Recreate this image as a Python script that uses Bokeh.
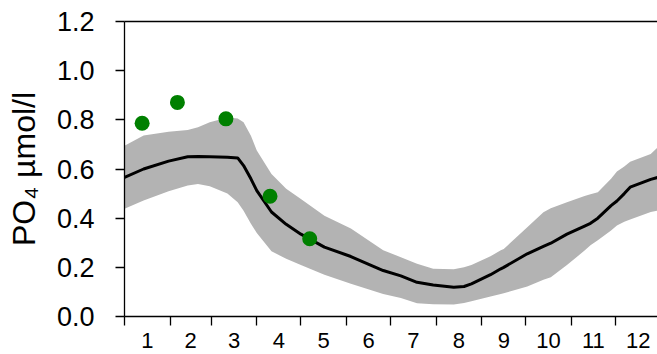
from bokeh.plotting import figure
from bokeh.models import LinearAxis, FixedTicker, Range1d
from bokeh.embed import file_html
from bokeh.resources import INLINE

# ---- data (day of year) ----
month_labels = ["1", "2", "3", "4", "5", "6", "7", "8", "9", "10", "11", "12"]
month_starts = [0, 31, 59, 90, 120, 151, 181, 212, 243, 273, 304, 334, 365]
month_mids = [15.5, 45, 74.5, 105, 135.5, 166, 196.5, 227.5, 258, 288.5, 319, 349.5]

y_ticks = [0.0, 0.2, 0.4, 0.6, 0.8, 1.0, 1.2]
y_tick_labels = ["0.0", "0.2", "0.4", "0.6", "0.8", "1.0", "1.2"]

clim_day = [0, 13, 30, 43, 50, 58, 70, 77, 81, 86, 90, 100, 110, 120, 136, 154,
            176, 188, 199, 210, 224, 231, 236, 249, 256, 258, 274, 285, 290, 301,
            313, 317, 322, 331, 335, 340, 344, 358, 363]
clim_mean = [0.566, 0.600, 0.632, 0.650, 0.651, 0.650, 0.648, 0.645, 0.614, 0.560,
             0.512, 0.425, 0.375, 0.335, 0.282, 0.244, 0.187, 0.165, 0.139, 0.128,
             0.119, 0.122, 0.133, 0.170, 0.194, 0.200, 0.255, 0.285, 0.298, 0.335,
             0.368, 0.379, 0.400, 0.451, 0.470, 0.500, 0.526, 0.558, 0.566]
clim_lower = [0.438, 0.472, 0.510, 0.533, 0.539, 0.530, 0.500, 0.465, 0.430, 0.377,
              0.340, 0.265, 0.235, 0.210, 0.170, 0.133, 0.092, 0.075, 0.054, 0.050,
              0.049, 0.055, 0.062, 0.081, 0.092, 0.095, 0.122, 0.150, 0.160, 0.210,
              0.268, 0.290, 0.310, 0.350, 0.370, 0.385, 0.395, 0.425, 0.431]
clim_upper = [0.695, 0.736, 0.752, 0.759, 0.770, 0.790, 0.810, 0.805, 0.790, 0.735,
              0.675, 0.580, 0.520, 0.478, 0.410, 0.358, 0.270, 0.241, 0.215, 0.194,
              0.192, 0.200, 0.210, 0.245, 0.270, 0.275, 0.363, 0.424, 0.440, 0.465,
              0.490, 0.497, 0.505, 0.560, 0.590, 0.610, 0.630, 0.661, 0.690]

obs_day = [12, 36, 69, 99, 126]
obs_po4 = [0.786, 0.871, 0.804, 0.489, 0.316]

FONT = "Liberation Sans"

p = figure(width=657, height=354, output_backend="svg", toolbar_location=None,
           x_range=Range1d(0, 362.6), y_range=Range1d(0, 1.2),
           min_border_left=124, min_border_right=0, min_border_top=21,
           min_border_bottom=38)
p.background_fill_color = "white"
p.border_fill_color = "white"
p.outline_line_color = None
p.xgrid.visible = False
p.ygrid.visible = False

p.varea(x=clim_day, y1=clim_lower, y2=clim_upper, fill_color="#b3b3b3")
p.line(x=clim_day, y=clim_mean, line_color="black", line_width=3)
p.scatter(x=obs_day, y=obs_po4, size=15, fill_color="#008000", line_color=None)

# x axis: ticks at month boundaries, labels at month centres
xa = p.xaxis[0]
xa.ticker = FixedTicker(ticks=month_mids, minor_ticks=month_starts)
xa.major_label_overrides = {m: l for m, l in zip(month_mids, month_labels)}
xa.major_tick_line_color = None
xa.major_tick_out = 0
xa.major_tick_in = 0
xa.minor_tick_line_color = "black"
xa.minor_tick_out = 9
xa.minor_tick_in = 0
xa.minor_tick_line_width = 1.3
xa.axis_line_width = 1.3
xa.major_label_standoff = 7
xa.major_label_text_font = FONT
xa.major_label_text_font_size = "22px"
xa.major_label_text_color = "black"

ya = p.yaxis[0]
ya.ticker = FixedTicker(ticks=y_ticks)
ya.major_label_overrides = {t: l for t, l in zip(y_ticks, y_tick_labels)}
ya.minor_tick_line_color = None
ya.major_tick_out = 9
ya.major_tick_in = 0
ya.major_tick_line_width = 1.3
ya.axis_line_width = 1.3
ya.major_label_standoff = 21
ya.major_label_text_font = FONT
ya.major_label_text_font_size = "27px"
ya.major_label_text_color = "black"
ya.axis_label = "PO\u2084 \u00b5mol/l"
ya.axis_label_text_font = FONT
ya.axis_label_text_font_size = "32px"
ya.axis_label_text_font_style = "normal"
ya.axis_label_text_color = "black"
ya.axis_label_standoff = 12

top = LinearAxis(ticker=FixedTicker(ticks=[]), axis_line_color="black",
                 axis_line_width=1.3, major_tick_line_color=None,
                 minor_tick_line_color=None, major_label_text_font_size="0px")
p.add_layout(top, "above")

open("out.html", "w").write(file_html(p, INLINE))
